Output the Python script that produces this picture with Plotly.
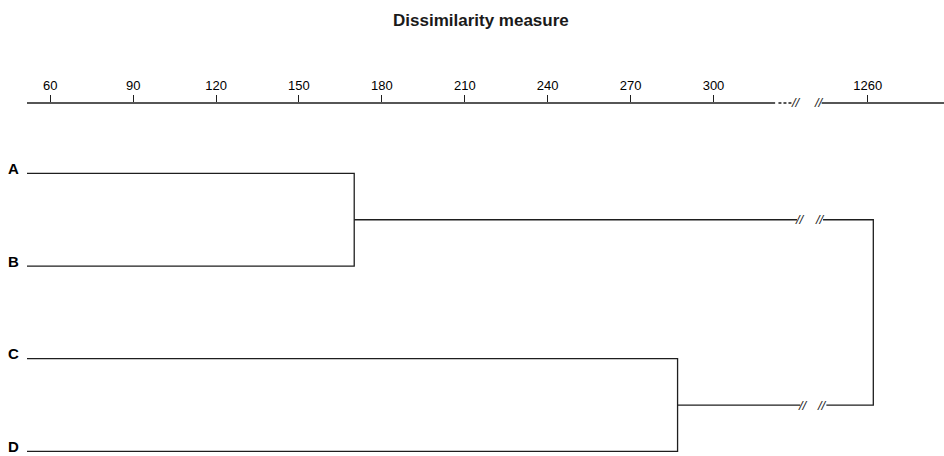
import plotly.graph_objects as go

# ---- data ----
leaf_labels = ["A", "B", "C", "D"]
leaf_pos = [3, 2, 1, 0]
merge_AB = 170      # dissimilarity where A and B join
merge_CD = 287      # dissimilarity where C and D join
merge_root = 1262   # dissimilarity where the two clusters join
left_ticks = [60, 90, 120, 150, 180, 210, 240, 270, 300]
right_ticks = [1260]

# axis break settings
left_range = [51.6, 333.0]
right_range = [1239.8, 1287.6]
left_break = 330.2     # where links stop before the break
right_resume = 1243.8  # where links resume after the break
axis_solid_end = 322.3
axis_dash_end = 328.6
right_axis_start = 1243.3

W, H = 944, 456
LINE = dict(color="#1e1e1e", width=1.3)
FONT = "Liberation Sans, Arial, Helvetica"

fig = go.Figure()

def seg(xs, ys, axis="x"):
    fig.add_trace(go.Scatter(x=xs, y=ys, mode="lines", line=LINE,
                             xaxis=axis, yaxis="y", hoverinfo="skip",
                             showlegend=False))

x0 = left_range[0]
# leaves A, B -> merge_AB
seg([x0, merge_AB, merge_AB, x0], [leaf_pos[0], leaf_pos[0], leaf_pos[1], leaf_pos[1]])
# leaves C, D -> merge_CD
seg([x0, merge_CD, merge_CD, x0], [leaf_pos[2], leaf_pos[2], leaf_pos[3], leaf_pos[3]])
yAB = (leaf_pos[0] + leaf_pos[1]) / 2
yCD = (leaf_pos[2] + leaf_pos[3]) / 2
# links to break
seg([merge_AB, left_break], [yAB, yAB])
seg([merge_CD, left_break + 1.2], [yCD, yCD])
# after break to root
seg([right_resume, merge_root, merge_root, right_resume + 1.2], [yAB, yAB, yCD, yCD], axis="x2")

ytop = 1 - 103 / H

shapes = [
    dict(type="line", xref="x", yref="paper", x0=x0, x1=axis_solid_end, y0=ytop, y1=ytop, line=LINE),
    dict(type="line", xref="x", yref="paper", x0=axis_solid_end + 1.2, x1=axis_dash_end, y0=ytop, y1=ytop,
         line=dict(color="#1e1e1e", width=1.3, dash="3px,2px")),
    dict(type="line", xref="x2", yref="paper", x0=right_axis_start, x1=right_range[1], y0=ytop, y1=ytop, line=LINE),
]

fig.add_annotation(text="<b>Dissimilarity measure</b>", x=481 / W, y=1 - 21 / H, xref="paper", yref="paper",
                   xanchor="center", yanchor="middle", showarrow=False,
                   font=dict(size=17, family=FONT, color="#1a1a1a"))
brk_font = dict(size=13, family=FONT, color="#1e1e1e")
for yy, xl, xr in [(ytop, 329.9, 1242.3), (yAB, left_break + 1.0, right_resume - 1.2), (yCD, left_break + 2.2, right_resume - 0.2)]:
    yr = "paper" if yy == ytop else "y"
    fig.add_annotation(text="<i>//</i>", x=xl, y=yy, xref="x", yref=yr, showarrow=False, font=brk_font,
                       xanchor="center", yanchor="middle")
    fig.add_annotation(text="<i>//</i>", x=xr, y=yy, xref="x2", yref=yr, showarrow=False, font=brk_font,
                       xanchor="center", yanchor="middle")

# leaf labels, sitting a little above their lines
for lab, pos in zip(leaf_labels, leaf_pos):
    fig.add_annotation(text=f"<b>{lab}</b>", x=20.5 / W, y=pos, xref="paper", yref="y",
                       xanchor="right", yanchor="middle", yshift=5, showarrow=False,
                       font=dict(size=15, family=FONT, color="#000"))

fig.update_layout(
    width=W, height=H,
    margin=dict(l=0, r=0, t=0, b=0, autoexpand=False),
    paper_bgcolor="white", plot_bgcolor="white",
    shapes=shapes,
    font=dict(family=FONT, color="#000"),
    xaxis=dict(domain=[27 / W, 804.7 / W], range=left_range, side="top", anchor="y", automargin=False,
               tickvals=left_ticks, ticks="outside", ticklen=7, tickcolor="#1e1e1e", tickwidth=1,
               showline=False, showgrid=False, zeroline=False, tickfont=dict(size=13)),
    xaxis2=dict(domain=[812 / W, 1.0], range=right_range, side="top", anchor="y", automargin=False,
                tickvals=right_ticks, ticks="outside", ticklen=7, tickcolor="#1e1e1e", tickwidth=1,
                showline=False, showgrid=False, zeroline=False, tickfont=dict(size=13)),
    yaxis=dict(domain=[0, ytop], range=[-0.05, 3.76], anchor="x", automargin=False,
               tickvals=leaf_pos, showticklabels=False, ticks="",
               showline=False, showgrid=False, zeroline=False),
)

fig.write_html("out.html", config={"displayModeBar": False},
               post_script="document.body.style.margin='0';document.body.style.padding='0';")
